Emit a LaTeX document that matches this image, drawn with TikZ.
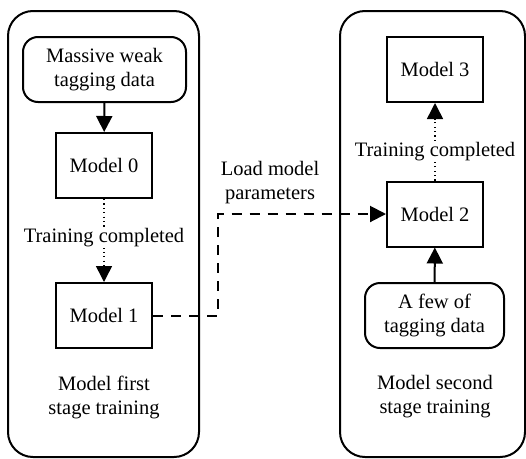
\documentclass[tikz,border=0pt]{standalone}
\usepackage{fontspec}
\setmainfont{Liberation Serif}
\usetikzlibrary{arrows.meta}
\begin{document}
\begin{tikzpicture}[x=1pt,y=-1pt,
  font=\fontsize{20.5}{24}\selectfont,
  stage/.style={draw,line width=2pt,rounded corners=25pt},
  modelbox/.style={draw,line width=2pt,minimum width=96pt,minimum height=65pt,inner sep=0pt},
  databox/.style={draw,line width=2pt,rounded corners=15pt,minimum height=65pt,align=center,inner sep=0pt},
  caption/.style={align=center,inner sep=0pt},
  solidarrow/.style={line width=2pt,-{Triangle[length=16pt,width=16pt]}},
  dottedarrow/.style={line width=1.5pt,dash pattern=on 1.2pt off 3.2pt,-{Triangle[length=16pt,width=16pt]}},
  dashedarrow/.style={line width=2pt,dash pattern=on 10pt off 8pt,-{Triangle[length=16pt,width=16pt]}},
  steplabel/.style={fill=white,inner sep=1pt}]
\useasboundingbox (0,0) rectangle (526,458);

% the two training stages
\draw[stage] (8,11) rectangle (199,457);
\draw[stage] (340,11) rectangle (525,457);

% first stage
\node[databox,minimum width=163pt] (weak) at (104.5,69.5) {Massive weak\\tagging data};
\node[modelbox] (m0) at (104,165.5) {Model 0};
\node[modelbox] (m1) at (104,315.5) {Model 1};
\node[caption] (cap1) at (104,397) {Model first\\stage training};

% second stage
\node[modelbox] (m3) at (435,69.5) {Model 3};
\node[modelbox] (m2) at (435,214) {Model 2};
\node[databox,minimum width=139pt] (few) at (434.5,315.5) {A few of\\tagging data};
\node[caption] (cap2) at (435,397) {Model second\\stage training};

% connectors
\draw[solidarrow] (weak) -- (m0);
\draw[dottedarrow] (m0) -- node[steplabel,pos=0.47] (tc1) {Training completed} (m1);
\draw[dottedarrow] (m2) -- node[steplabel,pos=0.375] (tc2) {Training completed} (m3);
\draw[solidarrow] (few) -- (m2);
\coordinate (bend) at (218,315.5);
\draw[dashedarrow] (m1.east) -- (bend) |- (m2.west);
\node[caption] (load) at (270,183) {Load model\\parameters};
\end{tikzpicture}
\end{document}
